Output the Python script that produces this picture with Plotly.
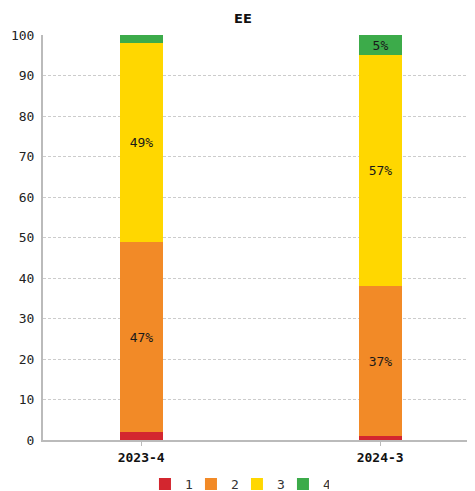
import plotly.graph_objects as go

categories = ["2023-4", "2024-3"]
series_names = ["1", "2", "3", "4"]
values_1 = [2, 1]
values_2 = [47, 37]
values_3 = [49, 57]
values_4 = [2, 5]
colors = ["#D3262F", "#F28A27", "#FFD700", "#3CAB4A"]

all_values = [values_1, values_2, values_3, values_4]

fig = go.Figure()
for name, vals, col in zip(series_names, all_values, colors):
    labels = [f"{v}%" if v >= 5 else "" for v in vals]
    fig.add_trace(go.Bar(
        x=categories, y=vals, name=name,
        marker=dict(color=col, line=dict(width=0)),
        width=0.18,
        text=labels, textposition="inside", insidetextanchor="middle",
        textfont=dict(family="DejaVu Sans Mono", size=13, color="#1A1A1A"),
        constraintext="none", textangle=0,
        hoverinfo="skip",
    ))

# page body has an 8px default margin, so the figure is sized to fit
fig.update_layout(
    barmode="stack",
    width=467, height=483,
    margin=dict(l=35, r=0, t=27, b=51, autoexpand=False),
    paper_bgcolor="white", plot_bgcolor="white",
    title=dict(text="<b>EE</b>", x=0.503, xanchor="center", y=0.979, yanchor="middle",
               font=dict(family="DejaVu Sans", size=13, color="#111111")),
    showlegend=True,
    legend=dict(orientation="h", x=0.449, xanchor="center", y=-0.109, yanchor="middle",
                font=dict(family="DejaVu Sans Mono", size=13, color="#333333"),
                itemwidth=30, entrywidth=1, entrywidthmode="pixels",
                tracegroupgap=0, traceorder="normal"),
    bargap=0,
)
fig.update_xaxes(
    type="category", range=[-0.411, 1.397], automargin=False,
    showline=True, linecolor="#BBBBBB", linewidth=2,
    ticks="outside", ticklen=4, tickcolor="#BBBBBB",
    tickfont=dict(family="DejaVu Sans Mono", size=13, color="#111111"),
    tickprefix="<b>", ticksuffix="</b>",
    showgrid=False, zeroline=False,
)
fig.update_yaxes(
    range=[0, 100], dtick=10, automargin=False,
    showline=True, linecolor="#BBBBBB", linewidth=2,
    tickfont=dict(family="DejaVu Sans Mono", size=13, color="#222222"),
    showgrid=True, gridcolor="#CCCCCC", griddash="3px,2px", gridwidth=1,
    zeroline=False, ticks="", ticklabelstandoff=4,
)

fig.write_html("out.html")
